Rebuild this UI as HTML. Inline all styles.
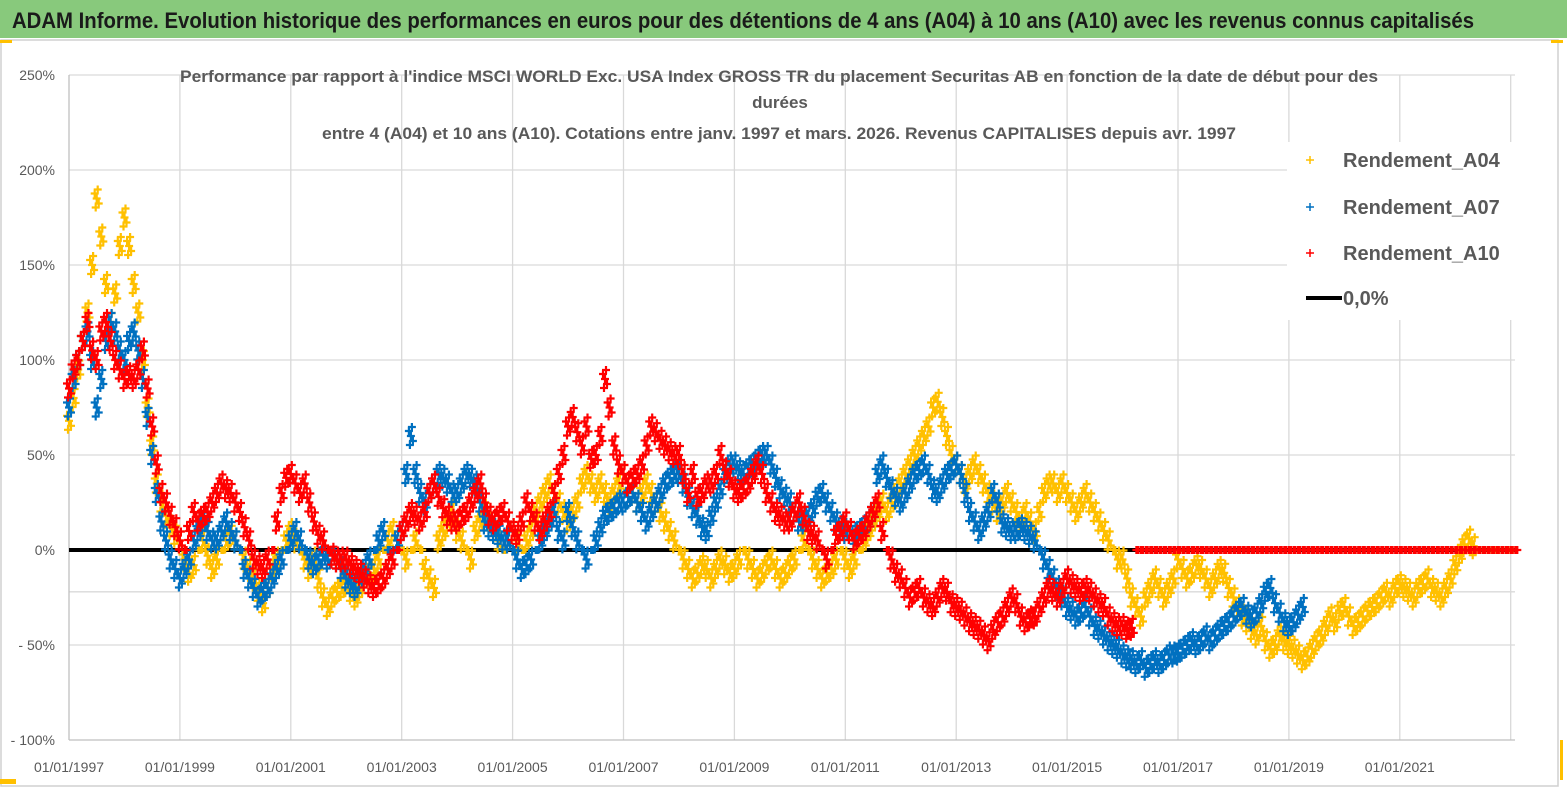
<!DOCTYPE html>
<html><head><meta charset="utf-8"><style>
body{margin:0;background:#fff;}
svg text{font-family:"Liberation Sans",sans-serif;}
</style></head><body>
<svg id="chart" width="1567" height="790" viewBox="0 0 1567 790" xmlns="http://www.w3.org/2000/svg">
<rect x="0" y="0" width="1567" height="790" fill="#fff"/>
<rect x="0" y="0" width="1567" height="38" fill="#88C97C"/>
<text x="12" y="28" font-size="22" font-weight="bold" fill="#1a1a1a" textLength="1462" lengthAdjust="spacingAndGlyphs">ADAM Informe. Evolution historique des performances en euros pour des détentions de 4 ans (A04) à 10 ans (A10) avec les revenus connus capitalisés</text>
<rect x="1" y="40" width="1557" height="746" fill="none" stroke="#d0d0d0" stroke-width="1.5"/>
<rect x="0" y="40" width="12" height="3" fill="#FFC000"/><rect x="1551" y="40" width="12" height="3" fill="#FFC000"/>
<rect x="0" y="779" width="16" height="5" fill="#FFC000"/><rect x="1560" y="740" width="3" height="40" fill="#FFC000"/>
<g id="grid"></g>
<g id="axes"></g>
<g id="marks"></g>
<g font-weight="bold" fill="#595959" font-size="17">
<text x="180" y="82" textLength="1198" lengthAdjust="spacingAndGlyphs">Performance par rapport à l'indice MSCI WORLD Exc. USA Index GROSS TR  du placement Securitas AB en fonction de la date de début pour des</text>
<text x="780" y="108" text-anchor="middle">durées</text>
<text x="322" y="139" textLength="914" lengthAdjust="spacingAndGlyphs">entre 4 (A04) et 10 ans (A10). Cotations entre janv. 1997 et mars. 2026. Revenus CAPITALISES depuis avr. 1997</text>
</g>
<g>
<rect x="1287" y="142" width="230" height="178" fill="#fff"/>
<g><path d="M1306 160h8M1310 156v8" stroke="#FFC000" stroke-width="1.5"/><text x="1343" y="167" font-size="20" font-weight="bold" fill="#595959">Rendement_A04</text></g>
<g><path d="M1306 207h8M1310 203v8" stroke="#0070C0" stroke-width="1.5"/><text x="1343" y="214" font-size="20" font-weight="bold" fill="#595959">Rendement_A07</text></g>
<g><path d="M1306 253h8M1310 249v8" stroke="#FF0000" stroke-width="1.5"/><text x="1343" y="260" font-size="20" font-weight="bold" fill="#595959">Rendement_A10</text></g>
<g><path d="M1306 298h36" stroke="#000" stroke-width="4"/><text x="1343" y="305" font-size="20" font-weight="bold" fill="#595959">0,0%</text></g>
</g>
</svg>
<script>
const yTicks=[250,200,150,100,50,0,-50,-100];
const yTickLabels=["250%","200%","150%","100%","50%","0%","- 50%","- 100%"];
const xTickYears=[1997,1999,2001,2003,2005,2007,2009,2011,2013,2015,2017,2019,2021];
const xTickLabels=["01/01/1997","01/01/1999","01/01/2001","01/01/2003","01/01/2005","01/01/2007","01/01/2009","01/01/2011","01/01/2013","01/01/2015","01/01/2017","01/01/2019","01/01/2021"];
const startYear=1997;
const a04=[68,80,95,110,125,150,185,165,140,120,135,160,
175,160,140,125,100,75,55,35,25,18,12,8,
5,-5,-12,-8,0,5,-3,-10,-5,0,5,8,
5,0,-5,-10,-15,-22,-28,-20,-10,-5,0,5,
10,5,0,-5,-10,-5,-15,-25,-30,-25,-22,-20,
-18,-22,-25,-20,-15,-12,-10,-5,0,5,10,5,
0,-5,0,5,0,-10,-15,-20,5,10,15,20,
10,5,0,-5,10,15,20,15,10,5,0,5,
10,5,0,5,10,20,25,30,35,30,25,20,
15,20,25,35,40,35,30,35,30,25,30,35,
40,35,30,25,30,35,30,25,20,15,10,5,
0,-5,-10,-15,-12,-8,-10,-15,-10,-5,-8,-12,
-10,-5,0,-5,-10,-15,-12,-8,-5,-10,-15,-12,
-8,-5,0,5,0,-5,-10,-15,-12,-10,-5,0,
-5,-10,-5,0,5,10,15,20,25,20,25,30,
35,40,45,50,55,60,65,75,78,70,60,50,
45,40,35,40,45,40,35,30,25,20,25,30,
25,20,15,20,15,10,20,30,35,35,30,35,
30,25,20,25,30,25,20,15,10,5,0,-5,
-5,-15,-25,-30,-35,-25,-20,-15,-20,-25,-20,-15,
-5,-10,-15,-12,-8,-10,-15,-20,-15,-10,-12,-20,
-25,-30,-35,-38,-42,-45,-40,-48,-52,-50,-45,-48,
-50,-52,-55,-58,-56,-52,-48,-45,-40,-35,-38,-32,
-30,-35,-40,-38,-35,-32,-30,-28,-25,-22,-25,-20,
-18,-20,-22,-25,-20,-18,-15,-20,-22,-25,-20,-15,
-8,-2,3,6,2,0,0,0,0,0,0,0,
0];
const a07=[75,90,100,110,115,100,75,90,110,120,115,105,
100,110,115,105,90,70,50,30,15,5,-5,-10,
-15,-10,-5,5,10,15,10,5,5,10,15,10,
5,0,-10,-15,-20,-25,-22,-20,-15,-10,-5,0,
5,10,5,0,-5,-8,-5,-3,-5,0,-5,-10,
-15,-18,-20,-15,-10,-5,0,5,10,0,0,5,
10,40,60,40,30,25,30,35,40,38,35,30,
30,35,40,38,35,25,15,12,10,8,5,5,
0,-5,-10,-8,-5,0,5,10,15,20,10,5,
20,12,5,0,-5,0,5,12,18,20,22,25,
25,28,30,25,20,15,20,25,30,35,38,40,
40,35,28,22,18,12,10,18,25,32,40,45,
45,42,40,43,45,48,50,50,45,38,32,28,
25,20,15,15,18,22,28,30,25,20,15,12,
10,10,8,10,12,15,20,40,45,38,32,28,
25,30,35,40,42,45,40,32,30,35,40,42,
45,40,30,20,15,10,15,20,30,25,14,12,
10,10,12,10,8,5,0,-5,-10,-15,-20,-25,
-30,-32,-35,-33,-30,-35,-40,-42,-45,-48,-50,-52,
-55,-57,-58,-60,-58,-62,-60,-58,-60,-58,-55,-55,
-54,-52,-50,-48,-50,-48,-45,-48,-45,-42,-40,-38,
-35,-32,-30,-34,-36,-33,-28,-22,-20,-28,-33,-38,
-40,-38,-34,-30];
const a10=[85,95,100,110,120,105,100,115,120,110,100,95,
90,92,90,95,105,85,65,45,30,25,18,12,
5,0,10,20,15,18,20,25,30,35,32,30,
25,20,12,5,-5,-8,-10,-5,0,15,30,38,
40,35,30,35,25,15,8,5,0,-3,-5,-5,
-5,-8,-10,-12,-15,-18,-20,-18,-15,-10,-5,0,
10,15,20,18,15,20,30,35,28,22,18,15,
15,18,20,25,30,35,25,18,15,18,20,15,
10,8,15,25,20,15,10,15,20,30,40,50,
65,70,62,55,65,48,50,60,90,75,55,45,
40,35,38,40,45,55,65,62,58,55,52,50,
50,40,30,40,28,30,35,35,40,50,42,38,
32,30,32,35,40,45,40,30,25,20,18,15,
15,20,25,18,10,8,5,0,-5,0,8,10,
15,10,5,8,10,15,20,25,10,0,-5,-12,
-15,-20,-25,-22,-20,-25,-28,-30,-25,-20,-22,-28,
-30,-32,-35,-38,-40,-42,-45,-48,-42,-38,-35,-30,
-25,-28,-35,-38,-36,-35,-30,-25,-20,-22,-25,-20,
-15,-18,-20,-22,-20,-22,-25,-28,-30,-35,-38,-40,
-40,-42,-41,0,0,0,0,0,0,0,0,0,
0,0,0,0,0,0,0,0,0,0,0,0,
0,0,0,0,0,0,0,0,0,0,0,0,
0,0,0,0,0,0,0,0,0,0,0,0,
0,0,0,0,0,0,0,0,0,0,0,0,
0,0,0,0,0,0,0,0,0,0,0,0,
0,0,0,0,0,0,0,0,0,0,0,0,
0,0];
const NS="http://www.w3.org/2000/svg";
const X0=69, PX_PER_YEAR=55.45, Y0=550, PX_PER_PCT=1.9;
function xScale(year){return X0+(year-startYear)*PX_PER_YEAR;}
function yScale(v){return Y0-v*PX_PER_PCT;}
function mk(tag,attrs,parent){const e=document.createElementNS(NS,tag);for(const k in attrs)e.setAttribute(k,attrs[k]);parent.appendChild(e);return e;}
const grid=document.getElementById('grid'), axes=document.getElementById('axes'), marks=document.getElementById('marks');
const PLOT_R=1515, PLOT_T=75, PLOT_B=yScale(-100);
[250,200,150,100,50,-22,-50].forEach(v=>{
  const l=mk('line',{x1:X0,x2:PLOT_R,y1:yScale(v),y2:yScale(v),stroke:'#d9d9d9','stroke-width':1.3},grid);
  
  
});
xTickYears.concat([2023]).forEach((yr,i)=>{
  if(i===0)return;
  const l=mk('line',{x1:xScale(yr),x2:xScale(yr),y1:PLOT_T,y2:PLOT_B,stroke:'#d9d9d9','stroke-width':1.3},grid);
  
  
});
const ya=mk('line',{x1:X0,x2:X0,y1:PLOT_T,y2:PLOT_B,stroke:'#bfbfbf','stroke-width':1.3},axes);


const xa=mk('line',{x1:X0,x2:PLOT_R,y1:PLOT_B,y2:PLOT_B,stroke:'#bfbfbf','stroke-width':1.3},axes);


yTicks.forEach((v,i)=>{
  const t=mk('text',{x:55,y:yScale(v)+5,'text-anchor':'end','font-size':14,fill:'#595959'},axes);
  t.textContent=yTickLabels[i];
  
  
});
xTickYears.forEach((yr,i)=>{
  const t=mk('text',{x:xScale(yr),y:772,'text-anchor':'middle','font-size':14,fill:'#595959'},axes);
  t.textContent=xTickLabels[i];
  
  
});
const zl=mk('line',{x1:X0,x2:PLOT_R,y1:yScale(0),y2:yScale(0),stroke:'#000','stroke-width':4},marks);


const CLUSTER=[[0,0],[-2,-5],[2,5],[1,-9],[-1,9]];
function drawSeries(arr,color,name){
  const g=mk('g',{stroke:color,'stroke-width':2.2,fill:'none'},marks);
  
  
  let d='';
  arr.forEach((v,i)=>{
    const x=xScale(startYear+i/12), y=yScale(v);
    const pts = v===0 ? [[0,0],[2,0]] : CLUSTER;
    pts.forEach(([dx,dy])=>{
      const cx=x+dx, cy=y+dy;
      d+=`M${(cx-4).toFixed(1)} ${cy.toFixed(1)}h8M${cx.toFixed(1)} ${(cy-4).toFixed(1)}v8`;
    });
  });
  const p=mk('path',{d:d},g);
  
  
}
drawSeries(a04,'#FFC000','series-a04');
drawSeries(a07,'#0070C0','series-a07');
drawSeries(a10,'#FF0000','series-a10');
</script>
</body></html>
